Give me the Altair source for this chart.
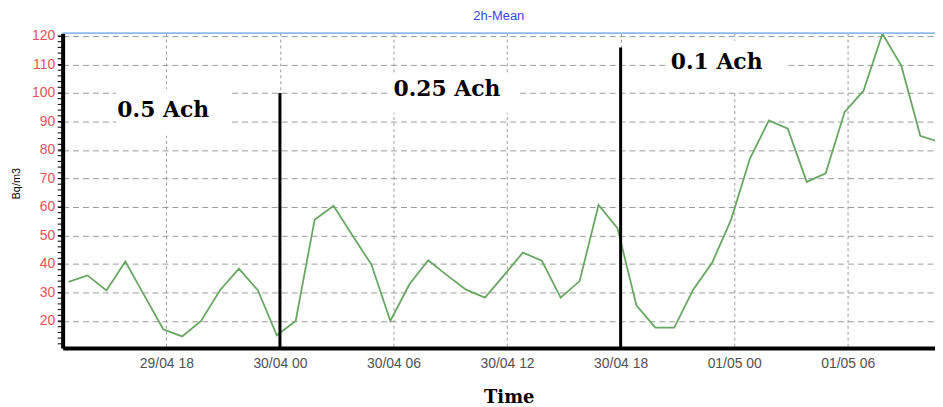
import altair as alt
import pandas as pd

# hours relative to 30/04 00:00 (samples at hh:50)
hour_index = list(range(-11, 36))
radon = [33.7, 36.0, 30.7, 40.9, 29.0, 17.1, 14.6, 20.0, 30.8, 38.4, 30.8, 15.0,
         20.0, 55.5, 60.4, 50.0, 39.8, 20.0, 32.8, 41.3, 36.0, 31.0, 28.2, 36.0,
         44.0, 41.2, 28.2, 34.0, 60.7, 52.6, 25.5, 17.7, 17.7, 31.0, 40.4, 55.5,
         77.0, 90.4, 87.5, 68.8, 71.8, 93.3, 100.8, 120.8, 109.5, 85.0, 82.8]
sample_minute = 50

tick_hours = [-6, 0, 6, 12, 18, 24, 30]
tick_labels = ["29/04 18", "30/04 00", "30/04 06", "30/04 12", "30/04 18", "01/05 00", "01/05 06"]
y_ticks = [20, 30, 40, 50, 60, 70, 80, 90, 100, 110, 120]
y_minor = list(range(12, 121, 2))

x_domain = [-11.48, 34.61]
y_domain = [10.5, 121]

chart_title = ["2h-Mean"]

# regime change markers
marker_hours = [0, 18]
marker_tops = [100, 116]

# annotations
ann_text = ["0.5 Ach", "0.25 Ach", "0.1 Ach"]
ann_x = [-8.59, 6.0, 20.65]
ann_y = [91.75, 99.1, 108.5]
box_x1 = [-8.65, 5.84, 20.38]
box_x2 = [-2.61, 12.51, 26.68]
box_y1 = [85.0, 93.1, 100.8]
box_y2 = [101.5, 106.7, 118.3]

W, H = 878, 317

df = pd.DataFrame({"h": [i - 1 + sample_minute / 60 for i in hour_index], "v": radon})
df_mark = pd.DataFrame({"h": marker_hours, "v": [y_domain[0]] * 2, "top": marker_tops})
df_ann = pd.DataFrame({"h": ann_x, "v": ann_y, "label": ann_text})
df_box = pd.DataFrame({"h": box_x1, "h2": box_x2, "v": box_y1, "v2": box_y2})
df_minor = pd.DataFrame({"v": y_minor})
df_title = pd.DataFrame({"label": chart_title})

label_expr = ""
for tv, tl in zip(tick_hours, tick_labels):
    label_expr += f"datum.value == {tv} ? '{tl}' : "
label_expr += "''"

xs = alt.Scale(domain=x_domain, nice=False, zero=False)
ys = alt.Scale(domain=y_domain, nice=False, zero=False)

xa = alt.Axis(
    values=tick_hours, labelExpr=label_expr, grid=True, gridDash=[3, 3],
    gridColor="#9a9a9a", ticks=False, tickSize=0, domain=True, domainColor="black",
    domainWidth=4, labelFont="Liberation Sans", labelFontSize=14, labelColor="#505050",
    labelPadding=9, title="Time", titleFont="DejaVu Serif", titleFontWeight="bold",
    titleFontSize=18, titleColor="black", titlePadding=18, titleX=449)
ya = alt.Axis(
    values=y_ticks, grid=True, gridDash=[6, 4], gridColor="#9a9a9a",
    ticks=True, tickSize=5, tickColor="black", domain=True, domainColor="black",
    domainWidth=4, labelFont="Liberation Sans", labelFontSize=14, labelColor="#e5505a",
    labelPadding=3, title="Bq/m3", titleFont="Liberation Sans", titleFontSize=11,
    titleFontWeight="normal", titleColor="black", titleX=-46, titleY=151,
    titleAngle=270, titleAlign="center", titleBaseline="middle")

line = alt.Chart(df).mark_line(color="#66a860", strokeWidth=1.8, clip=True).encode(
    x=alt.X("h:Q", scale=xs, axis=xa),
    y=alt.Y("v:Q", scale=ys, axis=ya),
)

boxes = alt.Chart(df_box).mark_rect(color="white").encode(
    x=alt.X("h:Q", scale=xs, axis=xa), x2="h2:Q",
    y=alt.Y("v:Q", scale=ys, axis=ya), y2="v2:Q",
)

markers = alt.Chart(df_mark).mark_rule(color="black", strokeWidth=3).encode(
    x=alt.X("h:Q", scale=xs, axis=xa),
    y=alt.Y("v:Q", scale=ys, axis=ya), y2="top:Q",
)

texts = alt.Chart(df_ann).mark_text(
    align="left", baseline="alphabetic", font="DejaVu Serif", fontWeight="bold",
    fontSize=22, color="black").encode(
    x=alt.X("h:Q", scale=xs, axis=xa),
    y=alt.Y("v:Q", scale=ys, axis=ya),
    text="label:N",
)

minor = alt.Chart(df_minor).mark_rule(color="black", strokeWidth=1).encode(
    y=alt.Y("v:Q", scale=ys, axis=ya),
    x=alt.value(-5), x2=alt.value(0),
)

top_line = alt.Chart(df_title).mark_rule(color="#8dbbe6", strokeWidth=2).encode(
    y=alt.value(0), x=alt.value(0), x2=alt.value(W),
)

title_text = alt.Chart(df_title).mark_text(
    font="Liberation Sans", fontSize=13, color="#4040f0", align="center",
    baseline="middle").encode(
    x=alt.value(W / 2), y=alt.value(-17), text="label:N",
)

chart = alt.layer(boxes, line, markers, texts, minor, top_line, title_text).properties(
    width=W, height=H,
    autosize=alt.AutoSizeParams(type="none"),
    padding={"left": 55, "top": 24, "right": 0, "bottom": 58},
).configure_view(stroke=None).configure(background="white")

chart.save("out.html", embed_options={"renderer": "svg", "actions": False})
